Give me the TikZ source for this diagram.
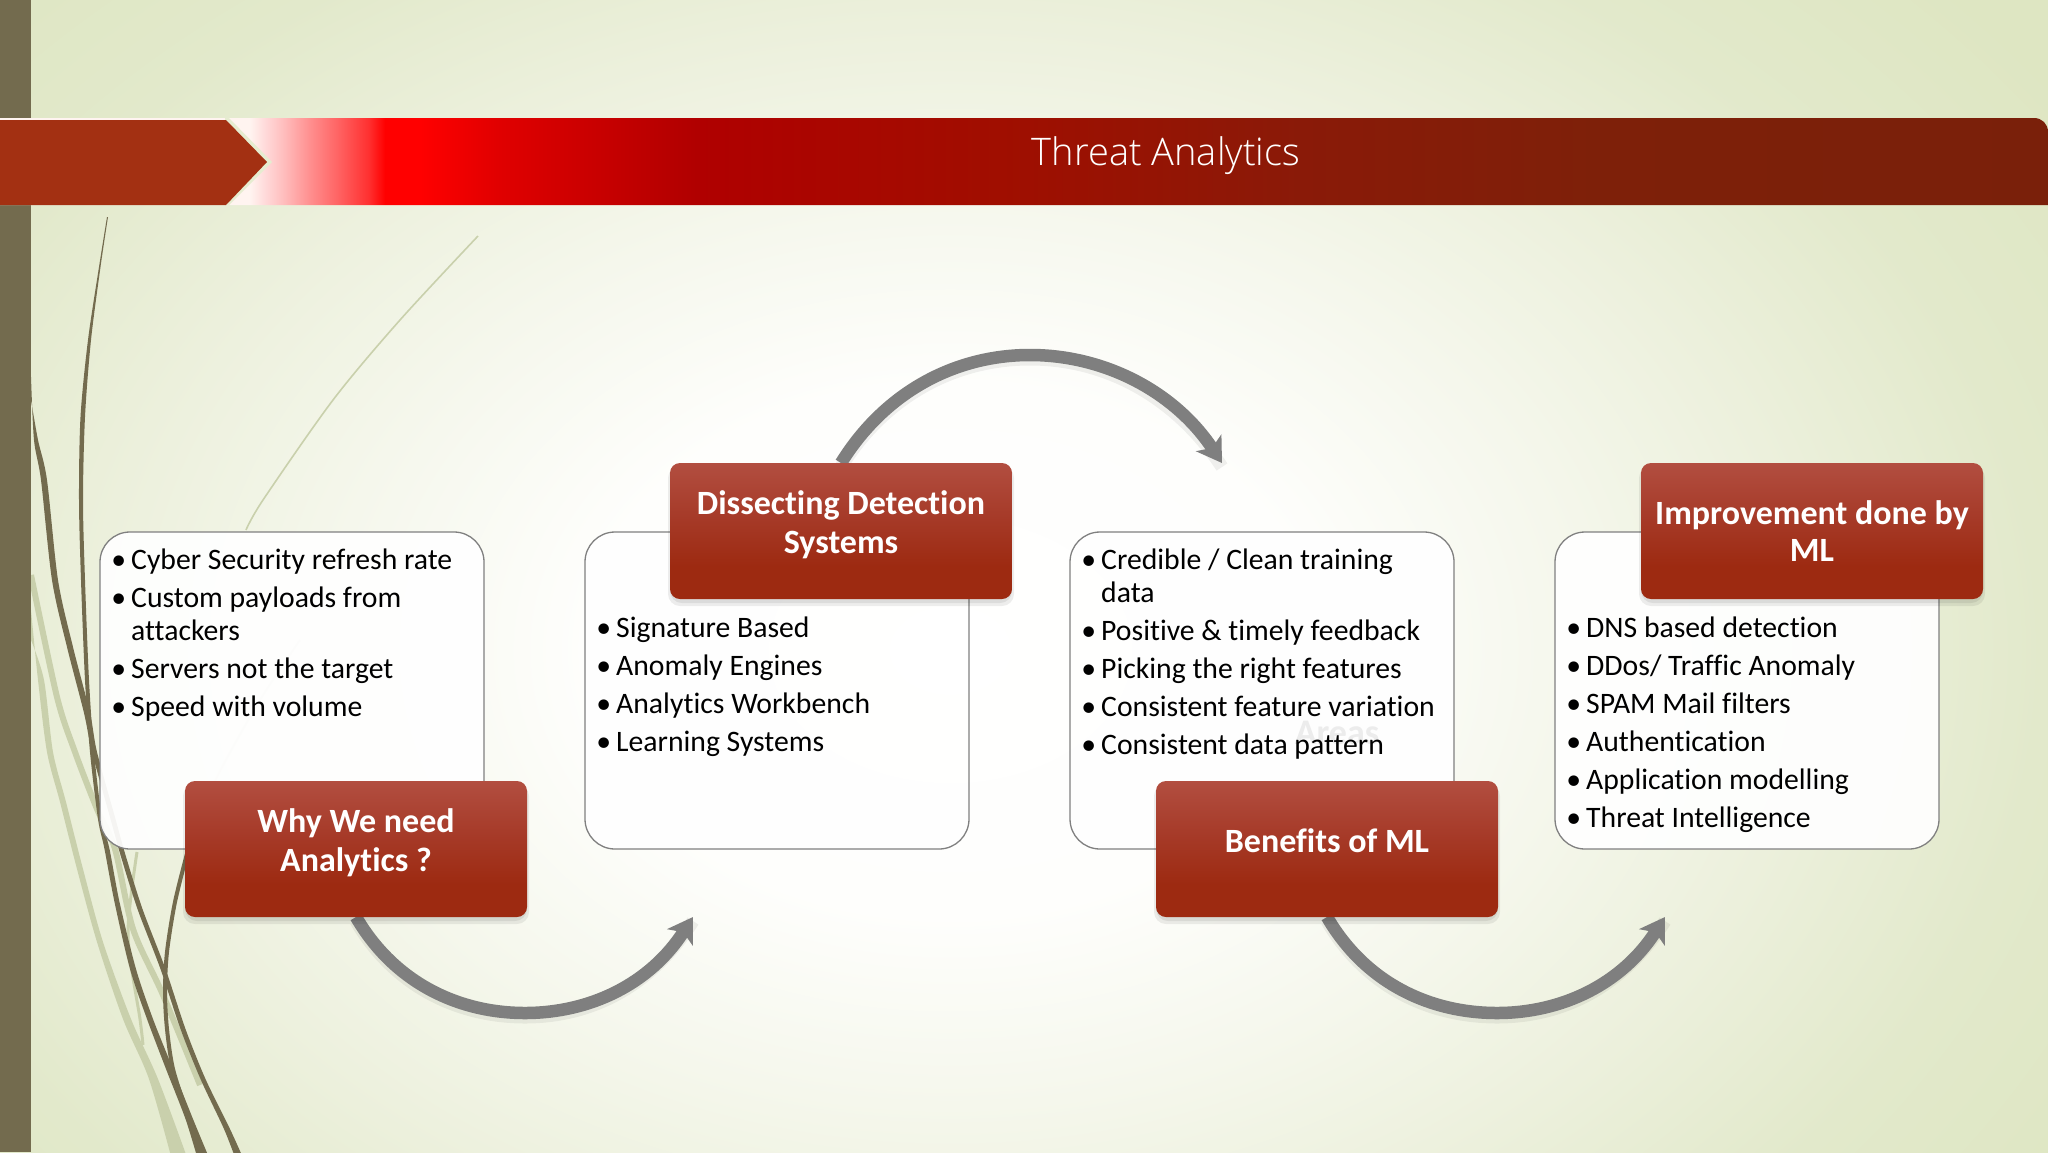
\documentclass[tikz,border=0pt]{standalone}
\usepackage{fontspec}
\setmainfont{Carlito}[Ligatures=NoCommon]
\newfontfamily\titlefont{Open Sans}[UprightFont=* Light]
\usetikzlibrary{arrows.meta}
\definecolor{stemdark}{HTML}{736B4E}
\definecolor{stemlight}{HTML}{C9D0AC}
\definecolor{arrowgrey}{HTML}{7F7F7F}
\definecolor{paleedge}{HTML}{E6ECD0}
\definecolor{bga}{HTML}{FEFEFC}
\definecolor{bgb}{HTML}{F5F7EC}
\definecolor{bgc}{HTML}{ECF0DC}
\definecolor{bgd}{HTML}{E2E9CB}
\definecolor{bge}{HTML}{DEE6C2}
\definecolor{ba}{HTML}{FFF4F0}
\definecolor{bb}{HTML}{FFD8D8}
\definecolor{bc}{HTML}{FFBFBF}
\definecolor{bd}{HTML}{FF9090}
\definecolor{be}{HTML}{FF6060}
\definecolor{bf}{HTML}{FF3030}
\definecolor{bg}{HTML}{FF0000}
\definecolor{bh}{HTML}{E00000}
\definecolor{bi}{HTML}{B00000}
\definecolor{bj}{HTML}{A00E00}
\definecolor{bk}{HTML}{8A1A08}
\definecolor{bm}{HTML}{7E2009}
\definecolor{bn}{HTML}{7A200A}
\definecolor{rda}{HTML}{9D2A11}
\definecolor{rdb}{HTML}{A63A28}
\definecolor{rdc}{HTML}{B24E40}
\definecolor{tagcol}{HTML}{A33012}
\definecolor{areascol}{HTML}{ECECEC}
\pgfdeclareradialshading{slidebg}{\pgfpointorigin}{
 color(0bp)=(white);
 color(7bp)=(bga);
 color(12bp)=(bgb);
 color(16.5bp)=(bgc);
 color(21bp)=(bgd);
 color(26bp)=(bge);
 color(50bp)=(bge)}
\pgfdeclarehorizontalshading{bandshade}{100bp}{
 color(0bp)=(ba);
 color(31.1bp)=(ba);
 color(31.5bp)=(bb);
 color(31.9bp)=(bc);
 color(32.55bp)=(bd);
 color(33.3bp)=(be);
 color(34bp)=(bf);
 color(34.4bp)=(bg);
 color(35.25bp)=(bg);
 color(37.2bp)=(bh);
 color(42bp)=(bi);
 color(49.4bp)=(bj);
 color(56.75bp)=(bk);
 color(64bp)=(bm);
 color(75bp)=(bn);
 color(100bp)=(bn)}
\pgfdeclareverticalshading{redshade}{100bp}{
 color(0bp)=(rda);
 color(37bp)=(rda);
 color(55bp)=(rdb);
 color(75bp)=(rdc);
 color(100bp)=(rdc)}
\tikzset{
 x=1pt,y=-1pt,
 listbox/.style={draw=black!50,line width=1.3pt,fill=white,fill opacity=.93,rounded corners=30pt},
 listtext/.style={anchor=north west,align=left,inner sep=0pt,text opacity=1,font=\fontsize{29.7}{33}\selectfont},
 redbox/.style={minimum width=342pt,minimum height=136pt,inner sep=0pt,rounded corners=10pt,shading=redshade,
   text=white,align=center,font=\fontsize{34}{39}\selectfont\bfseries},
 redshadow/.style={fill=black,fill opacity=.07,rounded corners=12pt},
 curvedarrow/.style={draw=arrowgrey,line width=12.5pt,-{Stealth[length=24pt,width=30pt,inset=6pt]}},
 arrowshadow/.style={draw=black,draw opacity=.06,line width=13pt},
 stemfill/.style={fill=stemdark,draw=none},
 lightstem/.style={draw=stemlight,line width=6pt},
}
\newcommand{\bul}{\llap{\textbullet\hspace{5pt}}}
\newcommand{\redcard}[4]{% name, x, y, text
 \fill[redshadow] (#2-173,#3-65) rectangle ++(346,140);
 \fill[redshadow] (#2-171,#3-65) rectangle ++(342,137);
 \node[redbox] (#1) at (#2,#3) {#4};}
\begin{document}
\begin{tikzpicture}
\useasboundingbox (0,0) rectangle (2048,1152);
\begin{scope}
\clip (0,0) rectangle (2048,1152);
\shade[shading=slidebg] (-350,-300) rectangle (2250,1600);
% grass
\draw[lightstem] plot[smooth] coordinates {(31,575) (57,697) (75,752) (97,809) (115,849) (133,929) (163,995) (200,1085)};
\fill[stemlight] plot[smooth] coordinates {(31,610) (38,680) (47,752) (60,802) (77,869) (97,942) (123,1019) (149,1079) (172,1160)}
 -- plot[smooth] coordinates {(188,1160) (158,1079) (131,1019) (103,942) (83,869) (66,802) (53,752) (44,680) (31,640)} -- cycle;
\draw[stemlight,line width=3pt] plot[smooth] coordinates {(137,852) (128,935) (140,1019) (143,1045)};
\draw[draw=stemlight,line width=1.6pt] plot[smooth] coordinates {(478,236) (400,320) (333,400) (263,500) (246,530)};
\draw[draw=stemlight,line width=2pt,opacity=.5] plot[smooth] coordinates {(300,640) (260,700) (217,777) (190,840)};
\fill[stemfill] plot[smooth] coordinates {(107,217) (99,267) (88,340) (80.5,417) (79,500) (81,580) (85,680) (90,752) (98,819) (104.5,849) (114.5,902) (130,969) (147,1019) (166,1069) (185.5,1119) (198,1160)}
 -- plot[smooth] coordinates {(210,1160) (193,1119) (173,1069) (153,1019) (136,969) (119.5,902) (109.5,849) (102,819) (94,752) (89,680) (85,580) (83,500) (85,417) (91,340) (100.5,267) (108,217)} -- cycle;
\fill[stemfill] plot[smooth] coordinates {(31,377) (34,440) (41,480) (52,580) (67,647) (84,713) (92,752) (110.5,819) (120.5,855) (137.5,909) (160.5,969) (180.5,1029) (200.5,1079) (224,1129) (236,1160)}
 -- plot[smooth] coordinates {(244,1160) (230,1129) (205.5,1079) (185.5,1029) (165.5,969) (142.5,909) (125.5,855) (115.5,819) (97,752) (90,713) (73,647) (58,580) (47,480) (38,440) (31,400)} -- cycle;
\draw[stemdark,line width=4pt] plot[smooth] coordinates {(188,850) (175,902) (167,952) (165,992) (167,1029) (173,1069) (187,1112) (205,1160)};
% strip
\fill[stemdark] (0,0) rectangle (31,1152);
% band
\path[shading=bandshade] (0,118) -- (2034,118) .. controls (2042,118) and (2048,124) .. (2048,132) -- (2048,205) -- (0,205) -- cycle;
\fill[paleedge] (225,118) -- (229,118) -- (272,162) -- (229,205) -- (225,205) -- cycle;
\fill[tagcol] (0,120) -- (226,120) -- (267,162) -- (226,205) -- (0,205) -- cycle;
\end{scope}
\node[text=white,inner sep=0pt,font=\titlefont\fontsize{38}{44}\selectfont] (title) at (1166,156) {Threat Analytics};
% list boxes
\path[listbox] (100,532) rectangle (484,849);
\path[listbox] (585,532) rectangle (969,849);
\path[listbox] (1070,532) rectangle (1454,849);
\path[listbox] (1555,532) rectangle (1939,849);
\node[text=areascol,inner sep=0pt,font=\fontsize{36}{40}\selectfont\bfseries] (areas) at (1337,733) {Areas};
\node[listtext] (l1) at (131,548.5) {\bul Cyber Security refresh rate\\[5pt]\bul Custom payloads from\\attackers\\[5pt]\bul Servers not the target\\[5pt]\bul Speed with volume};
\node[listtext] (l2) at (616,616.5) {\bul Signature Based\\[5pt]\bul Anomaly Engines\\[5pt]\bul Analytics Workbench\\[5pt]\bul Learning Systems};
\node[listtext] (l3) at (1101,548.5) {\bul Credible / Clean training\\data\\[5pt]\bul Positive \& timely feedback\\[5pt]\bul Picking the right features\\[5pt]\bul Consistent feature variation\\[5pt]\bul Consistent data pattern};
\node[listtext] (l4) at (1586,616.5) {\bul DNS based detection\\[5pt]\bul DDos/ Traffic Anomaly\\[5pt]\bul SPAM Mail filters\\[5pt]\bul Authentication\\[5pt]\bul Application modelling\\[5pt]\bul Threat Intelligence};
% arrow ends
\coordinate (e1) at (693,917);
\coordinate (e2) at (1222,463);
\coordinate (e3) at (1665,917);
\coordinate (s1) at (356,917);
\coordinate (s2) at (841,463);
\coordinate (s3) at (1327,917);
% shadows of arrows
\draw[arrowshadow] ([yshift=-4pt]s1) .. controls (395,988) and (460,1017) .. (525,1017) .. controls (590,1017) and (650,988) .. ([yshift=-4pt]e1);
\draw[arrowshadow] ([yshift=-4pt]s2) .. controls (885,396) and (955,359) .. (1030,359) .. controls (1105,359) and (1175,396) .. ([yshift=-4pt]e2);
\draw[arrowshadow] ([yshift=-4pt]s3) .. controls (1366,988) and (1431,1017) .. (1497,1017) .. controls (1562,1017) and (1622,988) .. ([yshift=-4pt]e3);
% arrows
\draw[curvedarrow] (s1) .. controls (395,984) and (460,1013) .. (525,1013) .. controls (590,1013) and (650,984) .. (e1);
\draw[curvedarrow] (s2) .. controls (885,392) and (955,355) .. (1030,355) .. controls (1105,355) and (1175,392) .. (e2);
\draw[curvedarrow] (s3) .. controls (1366,984) and (1431,1013) .. (1497,1013) .. controls (1562,1013) and (1622,984) .. (e3);
% red cards
\redcard{why}{356}{849}{Why We need\\Analytics ?\\[-22pt]\vphantom{x}}
\redcard{diss}{841}{531}{Dissecting Detection\\Systems\\[-22pt]\vphantom{x}}
\redcard{ben}{1327}{849}{Benefits of ML\\[-22pt]\vphantom{x}}
\redcard{imp}{1812}{531}{Improvement done by\\[-2pt]ML}
\end{tikzpicture}
\end{document}
